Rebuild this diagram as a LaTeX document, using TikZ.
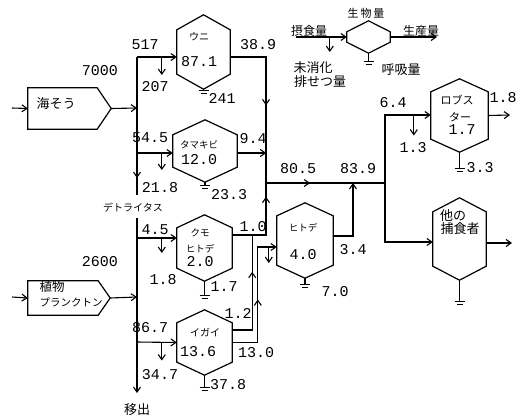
\documentclass[tikz,border=0pt]{standalone}
\usepackage{fontspec}
\setmonofont{Liberation Mono}
\newfontfamily\jpfont{Noto Sans CJK JP}
\usepackage{tikz}
\usetikzlibrary{arrows.meta,positioning,decorations.markings}
\newcommand{\hexframe}[2]{%
  \draw[hexline] (#1.north) -- ([yshift=-#2pt]#1.north east)
    -- ([yshift=#2pt]#1.south east) -- (#1.south)
    -- ([yshift=#2pt]#1.south west) -- ([yshift=-#2pt]#1.north west) -- cycle;}
\newcommand{\pentframe}[2]{%
  \draw[hexline] (#1.north west) -- ([xshift=-#2pt]#1.north east) -- (#1.east)
    -- ([xshift=-#2pt]#1.south east) -- (#1.south west) -- cycle;}
\newcommand{\earth}[2]{%
  \draw[flow] (#1.south) -- ++(0,#2) coordinate (#1-gnd);
  \draw[flow] ([xshift=-5pt]#1-gnd) -- ([xshift=5pt]#1-gnd);
  \draw[flow] ([xshift=-3pt,yshift=-3pt]#1-gnd) -- ([xshift=3pt,yshift=-3pt]#1-gnd);}

\begin{document}
\begin{tikzpicture}[
    x=1pt, y=-1pt,
    % --- line styles ---
    flow/.style={line width=1.1pt},
    hexline/.style={line width=1.2pt, line join=miter},
    arr/.style={flow, -{Straight Barb[length=5pt,width=7pt]}},
    midarrow/.style={flow, postaction={decorate},
      decoration={markings,
        mark=at position #1 with {\arrow{Straight Barb[length=5pt,width=7pt]}}}},
    % --- node styles ---
    hexa/.style={rectangle, inner sep=0pt},
    pentbox/.style={rectangle, inner sep=0pt},
    num/.style={font=\ttfamily\fontsize{15}{15}\selectfont, inner sep=0pt},
    jp/.style={font=\jpfont\fontsize{#1}{#1}\selectfont, inner sep=0pt, align=center},
  ]
  \useasboundingbox (0,0) rectangle (526,417);

  % ============== LEGEND (top) ==============
  \node[hexa, minimum width=43, minimum height=32] (legend) at (368.5,37) {};
  \node[jp=11] (lgBio)   at (366,13) {生\,物\,量};
  \node[jp=12] (lgIn)    at (309,31) {摂食量};
  \node[jp=12] (lgOut)   at (421,31) {生産量};
  \node[jp=13] (lgUndig) at (313,68) {未消化};
  \node[jp=13] (lgExcr)  at (320,82) {排せつ量};
  \node[jp=13] (lgResp)  at (401,70) {呼吸量};
  \coordinate (lgStart) at (296,37);
  \coordinate (lgEnd)   at (437,37);

  % ============== PRODUCERS (left) ==============
  \node[pentbox, minimum width=83, minimum height=41] (kaisou) at (69.5,108.5) {};
  \node[jp=13] (kaisouTxt) at (56,104) {海そう};
  \node[pentbox, minimum width=82, minimum height=34] (plankton) at (69,298) {};
  \node[jp=12.5] (planktonA) at (52,287) {植物};
  \node[jp=10.5] (planktonB) at (71,302) {プランクトン};

  % ============== GRAZERS (middle column) ==============
  \node[hexa, minimum width=53, minimum height=74] (uni) at (203.5,52) {};
  \node[jp=10] (uniTxt) at (199,37) {ウニ};
  \node[num]   (uniVal) at (199,62) {87.1};

  \node[hexa, minimum width=64, minimum height=62] (tamakibi) at (205,151) {};
  \node[jp=9.5] (tamakibiTxt) at (199,145) {タマキビ};
  \node[num]    (tamakibiVal) at (199,160) {12.0};

  \node[hexa, minimum width=55, minimum height=66] (kumo) at (204.5,248) {};
  \node[jp=9.5] (kumoTxtA) at (200,233) {クモ};
  \node[jp=9.5] (kumoTxtB) at (200,249) {ヒトデ};
  \node[num]    (kumoVal)  at (200,262) {2.0};

  \node[hexa, minimum width=55, minimum height=65] (igai) at (204.5,342.5) {};
  \node[jp=10] (igaiTxt) at (205,333) {イガイ};
  \node[num]   (igaiVal) at (198,352) {13.6};

  % ============== PREDATORS (right) ==============
  \node[hexa, minimum width=56, minimum height=75] (hitode) at (305,240.5) {};
  \node[jp=9.5] (hitodeTxt) at (303,228) {ヒトデ};
  \node[num]    (hitodeVal) at (303,255) {4.0};

  \node[hexa, minimum width=57, minimum height=73] (lobster) at (459.5,115.5) {};
  \node[jp=11] (lobsterTxtA) at (457,100) {ロブス};
  \node[jp=11] (lobsterTxtB) at (460,117) {ター};
  \node[num]   (lobsterVal)  at (462,130) {1.7};

  \node[hexa, minimum width=53, minimum height=82] (other) at (459.5,239) {};
  \node[jp=13] (otherTxtA) at (453,216) {他の};
  \node[jp=13] (otherTxtB) at (460,229) {捕食者};

  % ============== FRAMES ==============
  \hexframe{legend}{11}
  \hexframe{uni}{15}
  \hexframe{tamakibi}{15}
  \hexframe{kumo}{13}
  \hexframe{igai}{13}
  \hexframe{hitode}{13}
  \hexframe{lobster}{13}
  \hexframe{other}{14}
  \pentframe{kaisou}{14}
  \pentframe{plankton}{12}

  % ============== DETRITUS TRUNK ==============
  \coordinate (trTop)   at (137,57);
  \coordinate (trKai)   at (137,108);
  \coordinate (trTama)  at (137,153);
  \coordinate (trEnd1)  at (137,195);
  \coordinate (trTop2)  at (137,218);
  \coordinate (trKumo)  at (137,238);
  \coordinate (trPlank) at (137,297);
  \coordinate (trIgai)  at (137,342);
  \coordinate (trEnd2)  at (137,393);
  \coordinate (kaiIn)   at (12,108);
  \coordinate (plankIn) at (12,297);
  \node[jp=10] (detritus) at (133,208) {デトライタス};
  \node[jp=13] (export)   at (137,410) {移出};

  % ============== JUNCTIONS ==============
  \coordinate (jA) at (266,183);
  \coordinate (jC) at (353,183);
  \coordinate (jD) at (385,183);
  \coordinate (lobOut) at (510,115);
  \coordinate (othOut) at (512,243);

  % ============== ARROWS: inputs ==============
  \draw[arr] (kaiIn) -- (kaisou.west);
  \draw[arr] (kaisou.east) -- (trKai);
  \draw[arr] (plankIn) -- (plankton.west);
  \draw[arr] (plankton.east) -- (trPlank);

  \draw[midarrow=0.877] (trTop) -- (trEnd1);
  \draw[arr] (trTop2) -- (trEnd2);

  \draw[arr] (trTop)   -- ([yshift=-5pt]uni.west);
  \draw[arr] (trTama)  -- ([yshift=-2pt]tamakibi.west);
  \draw[arr] (trKumo)  -- ([yshift=10pt]kumo.west);
  \draw[arr] (trIgai)  -- (igai.west);

  % unassimilated
  \draw[arr] ([xshift=-15pt,yshift=-5pt]uni.west) -- ++(0,18);
  \draw[arr] ([xshift=-11pt,yshift=-2pt]tamakibi.west) -- ++(0,17);
  \draw[arr] ([xshift=-15pt,yshift=10pt]kumo.west) -- ++(0,15);
  \draw[arr] ([xshift=-15pt]igai.west) -- ++(0,18);
  \draw[arr] ([xshift=-8pt,yshift=-6.5pt]hitode.west) -- ++(0,16);
  \draw[arr] ([xshift=-17pt]lobster.west) -- ++(0,20);

  % ============== ARROWS: production ==============
  \draw[midarrow=0.52] ([yshift=-5pt]uni.east) -| (jA);
  \draw[arr] ([yshift=-2pt]tamakibi.east) -- ++(29,0);
  \draw[midarrow=0.84] ([yshift=13pt]kumo.east) -| (jA);
  \draw[midarrow=0.68] ([yshift=12.5pt]igai.east) -| ([xshift=20pt,yshift=13pt]kumo.east);
  \draw[arr, midarrow=0.49] (igai.east) -| ([xshift=-19pt,yshift=-6.5pt]hitode.west)
    -- ([yshift=-6.5pt]hitode.west);
  \draw[arr] ([yshift=4.5pt]hitode.east) -| (jC);

  \draw[midarrow=0.37] (jA) -- (jD);
  \draw[arr] (jD) |- ([yshift=0.5pt]lobster.west);
  \draw[arr] (jD) |- ([yshift=-3pt]other.west);
  \draw[arr] (lobster.east) -- (lobOut);
  \draw[arr] ([yshift=-4pt]other.east) -- (othOut);

  % legend arrows
  \draw[arr] (lgStart) -- (legend.west);
  \draw[arr] ([xshift=-17pt]legend.west) -- ++(0,15);
  \draw[arr] (legend.east) -- (lgEnd);

  % ============== RESPIRATION ==============
  \earth{legend}{8}
  \earth{uni}{1}
  \earth{tamakibi}{3}
  \earth{kumo}{14}
  \earth{igai}{12}
  \earth{hitode}{6}
  \earth{lobster}{16}
  \earth{other}{21}

  % ============== FLOW VALUES ==============
  \node[num] (v7000) at (100,71)  {7000};
  \node[num] (v517)  at (145,45)  {517};
  \node[num] (v207)  at (155,87)  {207};
  \node[num] (v241)  at (222,98)  {241};
  \node[num] (v389)  at (258,45)  {38.9};
  \node[num] (v545)  at (150,138) {54.5};
  \node[num] (v218)  at (160,188) {21.8};
  \node[num] (v233)  at (229,195) {23.3};
  \node[num] (v94)   at (253,139) {9.4};
  \node[num] (v45)   at (155,230) {4.5};
  \node[num] (v18a)  at (163,280) {1.8};
  \node[num] (v17)   at (224,287) {1.7};
  \node[num] (v2600) at (100,262) {2600};
  \node[num] (v867)  at (150,328) {86.7};
  \node[num] (v347)  at (160,375) {34.7};
  \node[num] (v378)  at (228,385) {37.8};
  \node[num] (v10)   at (253,227) {1.0};
  \node[num] (v12)   at (238,313) {1.2};
  \node[num] (v130)  at (256,353) {13.0};
  \node[num] (v805)  at (298,169) {80.5};
  \node[num] (v839)  at (358,169) {83.9};
  \node[num] (v34)   at (353,250) {3.4};
  \node[num] (v70)   at (335,292) {7.0};
  \node[num] (v64)   at (393,103) {6.4};
  \node[num] (v13)   at (413,148) {1.3};
  \node[num] (v18b)  at (503,98)  {1.8};
  \node[num] (v33)   at (480,168) {3.3};

\end{tikzpicture}
\end{document}
